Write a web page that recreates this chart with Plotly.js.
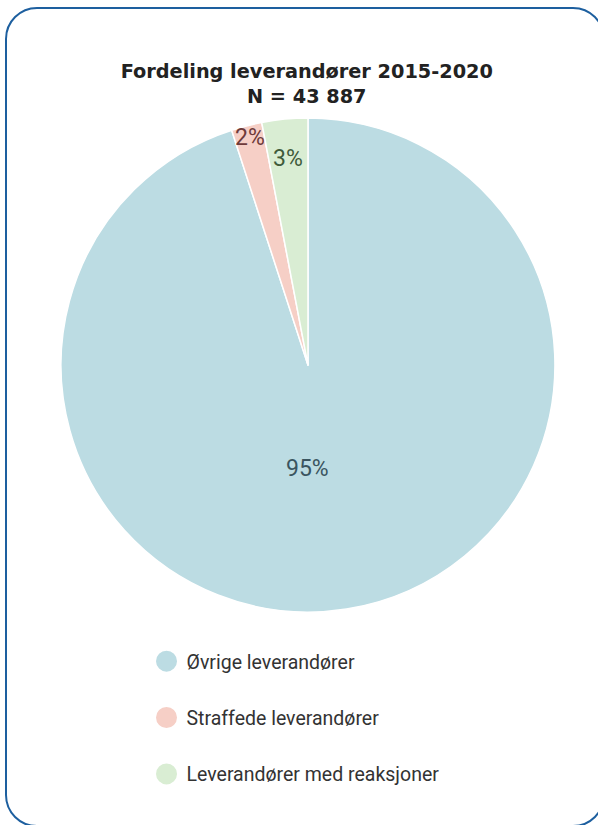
<!DOCTYPE html>
<html>
<head>
<meta charset="utf-8">
<script src="https://cdn.plot.ly/plotly-3.0.1.min.js"></script>
<style>
  html, body { margin: 0; padding: 0; background: #ffffff; }
  #frame {
    position: absolute; left: 5px; top: 7px; width: 600px; height: 820px;
    border: 2px solid #1d5f9f; border-radius: 32px; box-sizing: border-box;
  }
  #chart { position: absolute; left: 0; top: 0; width: 598px; height: 825px; }
</style>
</head>
<body>
<div id="frame"></div>
<div id="chart"></div>
<script>
const categories = ["Øvrige leverandører", "Straffede leverandører", "Leverandører med reaksjoner"];
const shares = [95, 2, 3];
const sliceColors = ["#bcdce3", "#f6cfc6", "#d9edd3"];
const labelColors = ["#3a5560", "#6e3a3a", "#3f5b3b"];
const titleLines = ["Fordeling leverandører 2015-2020", "N = 43 887"];

// pie placement (paper fractions) and label placement (style only)
const pieDomain = { x: [0.102, 0.928], y: [0.258, 0.857] };
const labelRadiusFrac = [0.42, 0.95, 0.84];
const W = 598, H = 825;

const pie = {
  type: "pie",
  labels: categories,
  values: shares,
  sort: false,
  direction: "clockwise",
  rotation: 0,
  marker: { colors: sliceColors, line: { color: "#ffffff", width: 1.5 } },
  textinfo: "none",
  showlegend: false,
  hoverinfo: "label+percent",
  domain: pieDomain
};

// percentage labels, placed along each slice's bisector using the data
const total = shares.reduce((a, b) => a + b, 0);
const cx = (pieDomain.x[0] + pieDomain.x[1]) / 2 * W;
const cy = (1 - (pieDomain.y[0] + pieDomain.y[1]) / 2) * H;
const R = Math.min((pieDomain.x[1] - pieDomain.x[0]) * W, (pieDomain.y[1] - pieDomain.y[0]) * H) / 2;
let cum = 0;
const annotations = shares.map((v, i) => {
  const frac = v / total;
  let mid = (cum + frac / 2) * 2 * Math.PI; // clockwise from 12 o'clock
  cum += frac;
  if (frac > 0.5) mid = Math.PI; // dominant slice: label straight below centre
  const r = labelRadiusFrac[i] * R;
  const px = cx + r * Math.sin(mid);
  const py = cy - r * Math.cos(mid);
  return {
    xref: "paper", yref: "paper",
    x: px / W, y: 1 - py / H,
    xanchor: "center", yanchor: "middle",
    showarrow: false,
    text: Math.round(frac * 100) + "%",
    font: { family: "Roboto, sans-serif", size: 23, color: labelColors[i] }
  };
});

const legendTraces = categories.map((c, i) => ({
  type: "scatter",
  x: [null], y: [null],
  mode: "markers",
  name: c,
  legendgroup: "g" + i,
  marker: { symbol: "circle", size: 22, color: sliceColors[i], line: { color: sliceColors[i], width: 5 } },
  showlegend: true,
  hoverinfo: "skip"
}));

const layout = {
  width: W, height: H,
  margin: { l: 0, r: 0, t: 0, b: 0 },
  paper_bgcolor: "rgba(0,0,0,0)",
  plot_bgcolor: "rgba(0,0,0,0)",
  title: {
    text: "<b>" + titleLines.join("<br>") + "</b>",
    x: 0.513, xanchor: "center",
    y: 1 - 78 / H, yanchor: "middle",
    font: { family: "DejaVu Sans, sans-serif", size: 19.3, color: "#222222" }
  },
  annotations: annotations,
  xaxis: { visible: false },
  yaxis: { visible: false },
  showlegend: true,
  legend: {
    x: 0.245, xanchor: "left",
    y: 1 - 642 / H, yanchor: "top",
    font: { family: "Roboto, sans-serif", size: 19.5, color: "#333333" },
    tracegroupgap: 28,
    itemsizing: "trace",
    bgcolor: "rgba(0,0,0,0)"
  }
};

Plotly.newPlot("chart", [pie].concat(legendTraces), layout, { displayModeBar: false, staticPlot: true });
</script>
</body>
</html>
